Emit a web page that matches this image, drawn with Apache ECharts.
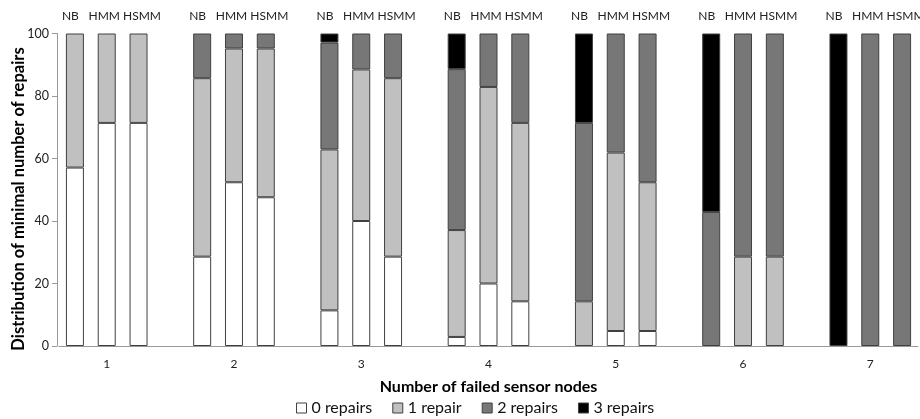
<!DOCTYPE html>
<html>
<head>
<meta charset="utf-8">
<script src="https://cdn.jsdelivr.net/npm/echarts@6/dist/echarts.min.js"></script>
<style>html,body{margin:0;padding:0;background:#fff}#c{width:920px;height:419px}</style>
</head>
<body>
<div id="c"></div>
<script>
// Data (per group: NB, HMM, HSMM), percentages
const groups = ['1', '2', '3', '4', '5', '6', '7'];
const methods = ['NB', 'HMM', 'HSMM'];
const seriesNames = ['0 repairs', '1 repair', '2 repairs', '3 repairs'];
const yTicks = [0, 20, 40, 60, 80, 100];
const repairs0 = [57.1, 71.4, 71.4, 28.6, 52.4, 47.6, 11.4, 40.0, 28.6, 2.9, 20.0, 14.3, 0, 4.8, 4.8, 0, 0, 0, 0, 0, 0];
const repairs1 = [42.9, 28.6, 28.6, 57.1, 42.8, 47.6, 51.5, 48.5, 57.1, 34.2, 62.9, 57.1, 14.3, 57.1, 47.6, 0, 28.6, 28.6, 0, 0, 0];
const repairs2 = [0, 0, 0, 14.3, 4.8, 4.8, 34.2, 11.5, 14.3, 51.5, 17.1, 28.6, 57.1, 38.1, 47.6, 42.9, 71.4, 71.4, 0, 100, 100];
const repairs3 = [0, 0, 0, 0, 0, 0, 2.9, 0, 0, 11.4, 0, 0, 28.6, 0, 0, 57.1, 0, 0, 100, 0, 0];
const colors = ['#ffffff', '#c0c0c0', '#777777', '#000000'];
const yTitle = 'Distribution of minimal number of repairs';
const xTitle = 'Number of failed sensor nodes';

// Build slot layout: 3 bars per group, one blank slot between groups
const slots = [];
groups.forEach((g, gi) => {
  methods.forEach((m, mi) => slots.push({ g, m, idx: gi * 3 + mi }));
  if (gi < groups.length - 1) slots.push(null);
});
const catKeys = slots.map((s, i) => s ? s.g + '-' + s.m : 'gap' + i);
function toSlotData(arr) {
  return slots.map(s => {
    if (!s) return '-';
    const v = arr[s.idx];
    return v === 0 ? '-' : v;
  });
}
const allSeries = [repairs0, repairs1, repairs2, repairs3];

const chart = echarts.init(document.getElementById('c'), null, { renderer: 'canvas' });
const font = 'Lato, "Open Sans", sans-serif';
chart.setOption({
  animation: false,
  textStyle: { fontFamily: font },
  grid: { left: 59, right: 2, top: 33.5, bottom: 73, containLabel: false, outerBoundsMode: 'none' },
  graphic: [{
    type: 'text',
    x: 19,
    y: 199,
    rotation: Math.PI / 2,
    style: {
      text: yTitle,
      fontFamily: font,
      fontSize: 16.5,
      fontWeight: 'bold',
      fill: '#000',
      align: 'center',
      verticalAlign: 'middle'
    }
  }],
  legend: {
    bottom: -2,
    left: 291,
    icon: 'rect',
    itemWidth: 10,
    itemHeight: 10,
    itemGap: 20,
    textStyle: { fontSize: 16, color: '#111', fontFamily: font },
    itemStyle: { borderColor: '#404040', borderWidth: 1 },
    data: seriesNames
  },
  xAxis: [{
    type: 'category',
    data: catKeys,
    position: 'bottom',
    axisLine: { lineStyle: { color: '#999', width: 1 } },
    axisTick: { show: false },
    axisLabel: {
      interval: 0,
      margin: 12,
      fontSize: 12,
      color: '#222',
      formatter: (v, i) => (slots[i] && slots[i].m === 'HMM') ? slots[i].g : ''
    },
    name: xTitle,
    nameLocation: 'middle',
    nameGap: 33,
    nameTextStyle: { fontSize: 16, fontWeight: 'bold', color: '#000' }
  }, {
    type: 'category',
    data: catKeys,
    position: 'top',
    axisLine: { show: false },
    axisTick: { show: false },
    axisLabel: {
      interval: 0,
      margin: 11,
      fontSize: 12,
      color: '#222',
      hideOverlap: false,
      formatter: (v, i) => slots[i] ? '{' + slots[i].m + '|' + slots[i].m + '}' : '',
      rich: {
        NB: { fontSize: 12, color: '#222', padding: [0, 9, 0, 0] },
        HMM: { fontSize: 12, color: '#222', padding: [0, 5, 0, 0] },
        HSMM: { fontSize: 12, color: '#222', padding: [0, 0, 0, 7] }
      }
    }
  }],
  yAxis: {
    type: 'value',
    min: 0,
    max: 100,
    interval: 20,
    offset: 2,
    splitLine: { show: false },
    axisLine: { show: true, lineStyle: { color: '#999' } },
    axisTick: { show: true, length: 5, lineStyle: { color: '#999' } },
    axisLabel: { fontSize: 12.5, color: '#222', margin: 8, formatter: v => yTicks.includes(v) ? String(v) : '' }
  },
  series: allSeries.map((arr, k) => ({
    name: seriesNames[k],
    type: 'bar',
    stack: 'total',
    xAxisIndex: 0,
    barWidth: 18,
    data: toSlotData(arr),
    itemStyle: { color: colors[k], borderColor: '#404040', borderWidth: 1 }
  }))
});
</script>
</body>
</html>
